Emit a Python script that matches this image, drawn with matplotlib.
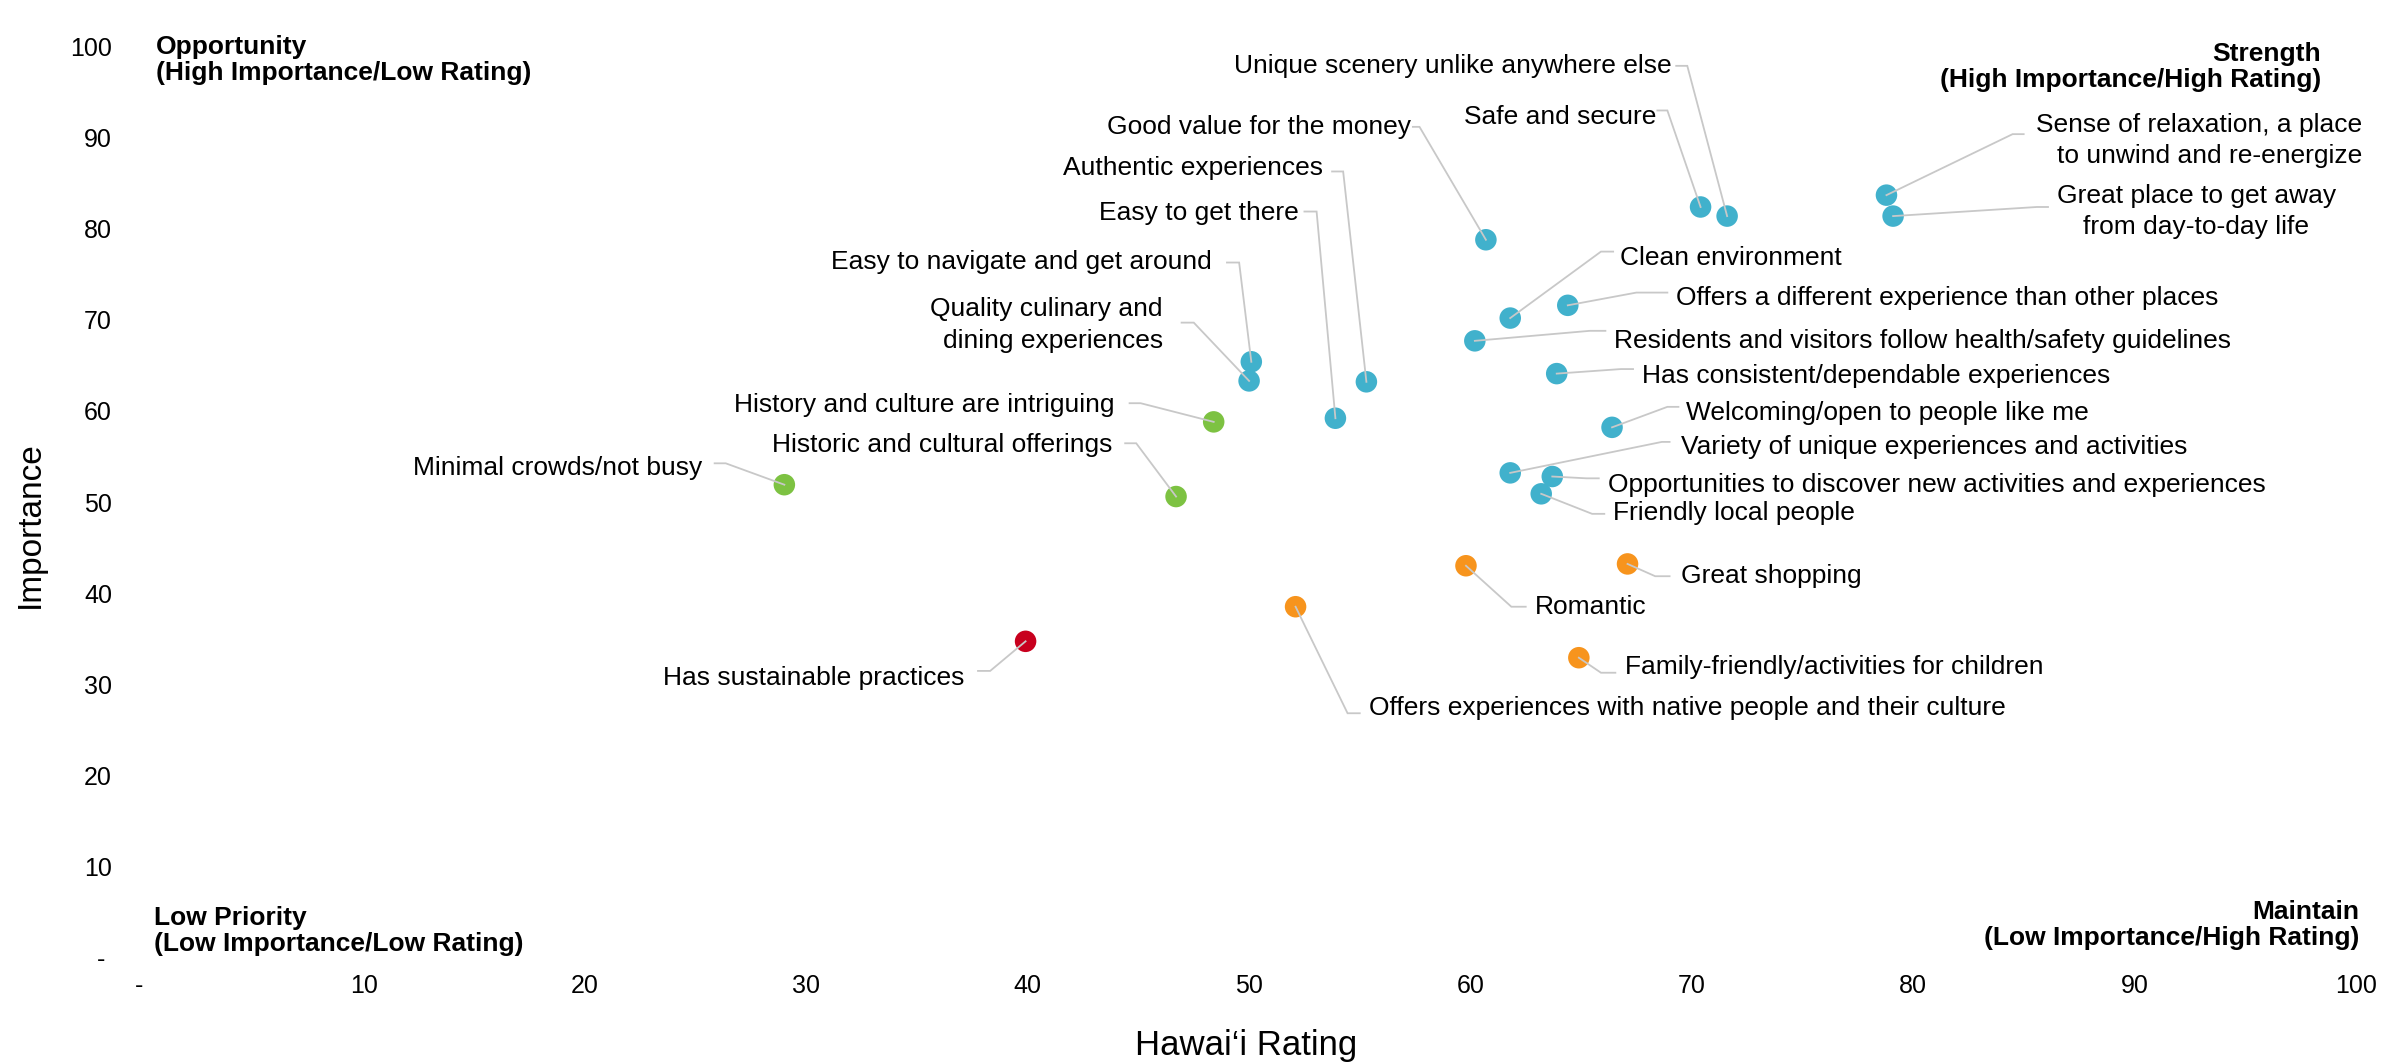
import matplotlib
matplotlib.use("Agg")
import matplotlib.pyplot as plt

plt.rcParams['font.family'] = ['Liberation Sans', 'DejaVu Sans']

# attribute scores: Hawai'i rating vs. importance
attributes = [
    "Sense of relaxation, a place\nto unwind and re-energize",
    "Great place to get away\nfrom day-to-day life",
    "Unique scenery unlike anywhere else",
    "Safe and secure",
    "Good value for the money",
    "Authentic experiences",
    "Easy to get there",
    "Easy to navigate and get around",
    "Quality culinary and\ndining experiences",
    "Clean environment",
    "Offers a different experience than other places",
    "Residents and visitors follow health/safety guidelines",
    "Has consistent/dependable experiences",
    "Welcoming/open to people like me",
    "Variety of unique experiences and activities",
    "Opportunities to discover new activities and experiences",
    "Friendly local people",
    "History and culture are intriguing",
    "Historic and cultural offerings",
    "Minimal crowds/not busy",
    "Has sustainable practices",
    "Romantic",
    "Great shopping",
    "Offers experiences with native people and their culture",
    "Family-friendly/activities for children",
]
rating = [78.8, 79.1, 71.6, 70.4, 60.7, 55.3, 53.9, 50.1, 50.0, 61.8, 64.4, 60.2,
          63.9, 66.4, 61.8, 63.7, 63.2, 48.4, 46.7, 29.0, 39.9, 59.8, 67.1, 52.1, 64.9]
importance = [83.7, 81.4, 81.4, 82.4, 78.8, 63.2, 59.2, 65.4, 63.3, 70.2, 71.6, 67.7,
              64.1, 58.2, 53.2, 52.8, 50.9, 58.8, 50.6, 51.9, 34.7, 43.0, 43.2, 38.5, 32.9]
group = ["core"] * 17 + ["culture"] * 3 + ["sustain"] + ["other"] * 4

group_colors = {"core": "#41B1CC", "culture": "#7DC242", "sustain": "#C8001E", "other": "#F7941D"}

x_ticks = list(range(0, 101, 10))
y_ticks = list(range(10, 101, 10))

# label placement: text x, text y, alignment, leader elbow x, elbow y, stub end x
label_layout = [
    (100.3, 89.7, "right", 84.5, 90.4, 85.0),
    (92.8, 81.9, "center", 85.6, 82.4, 86.1),
    (69.1, 97.9, "right", 69.8, 97.9, 69.3),
    (68.4, 92.3, "right", 68.9, 93.0, 68.45),
    (57.3, 91.2, "right", 57.7, 91.2, 57.4),
    (53.35, 86.7, "right", 54.25, 86.3, 53.75),
    (52.25, 81.7, "right", 53.05, 81.9, 52.5),
    (48.3, 76.4, "right", 49.55, 76.3, 49.0),
    (46.1, 69.45, "right", 47.5, 69.7, 46.95),
    (66.75, 76.8, "left", 65.9, 77.5, 66.45),
    (69.3, 72.4, "left", 67.5, 73.0, 68.9),
    (66.5, 67.7, "left", 65.4, 68.8, 66.1),
    (67.75, 63.85, "left", 66.8, 64.6, 67.35),
    (69.75, 59.8, "left", 68.9, 60.45, 69.4),
    (69.5, 56.0, "left", 68.65, 56.6, 69.0),
    (66.2, 51.85, "left", 65.25, 52.6, 65.8),
    (66.45, 48.75, "left", 65.5, 48.7, 66.05),
    (43.9, 60.65, "right", 45.1, 60.85, 44.6),
    (43.8, 56.25, "right", 44.9, 56.45, 44.4),
    (25.3, 53.7, "right", 26.35, 54.25, 25.85),
    (37.15, 30.65, "right", 38.3, 31.45, 37.75),
    (62.9, 38.45, "left", 61.85, 38.5, 62.5),
    (69.5, 41.85, "left", 68.35, 41.85, 69.0),
    (55.4, 27.35, "left", 54.45, 26.8, 55.0),
    (67.0, 31.85, "left", 65.9, 31.25, 66.55),
]

fig = plt.figure(figsize=(23.84, 10.62), dpi=100)
ax = fig.add_axes([0.0598, 0.0986, 0.9283, 0.8574])
ax.set_xlim(0, 100)
ax.set_ylim(0, 100)
for s in ax.spines.values():
    s.set_visible(False)

ax.set_xticks(x_ticks)
ax.set_xticklabels(["- "] + [str(t) for t in x_ticks[1:]])
ax.set_yticks([0] + y_ticks)
ax.set_yticklabels(["- "] + [str(t) for t in y_ticks])
ax.tick_params(axis="both", length=0, labelsize=18, colors="black")
ax.tick_params(axis="x", pad=12)
ax.tick_params(axis="y", pad=22)

ax.scatter(rating, importance, s=240, c=[group_colors[g] for g in group],
           edgecolors="none", zorder=3)

for name, x, y, (tx, ty, ha, ex, ey, sx) in zip(attributes, rating, importance, label_layout):
    ax.plot([sx, ex, x], [ey, ey, y], color="#C8C8C8", lw=1.3, zorder=4,
            solid_joinstyle="miter", clip_on=False)
    ax.text(tx, ty, name, ha=ha, va="center", fontsize=19, linespacing=1.38,
            multialignment=ha, clip_on=False, zorder=5)

# quadrant captions
quad = dict(fontsize=19, fontweight="bold", va="center", linespacing=1.1)
ax.text(0.6, 98.5, "Opportunity\n(High Importance/Low Rating)", ha="left", **quad)
ax.text(98.45, 97.8, "Strength\n(High Importance/High Rating)", ha="right",
        multialignment="right", **quad)
ax.text(0.5, 2.9, "Low Priority\n(Low Importance/Low Rating)", ha="left", **quad)
ax.text(100.15, 3.5, "Maintain\n(Low Importance/High Rating)", ha="right",
        multialignment="right", **quad)

fig.text(1246 / 2384, 1 - 1046 / 1062, "Hawai\u2018i Rating", ha="center", va="center", fontsize=25)
fig.text(30 / 2384, 1 - 525 / 1062, "Importance", ha="center", va="center",
         rotation=90, fontsize=24)

fig.savefig("out.png", dpi=100)
